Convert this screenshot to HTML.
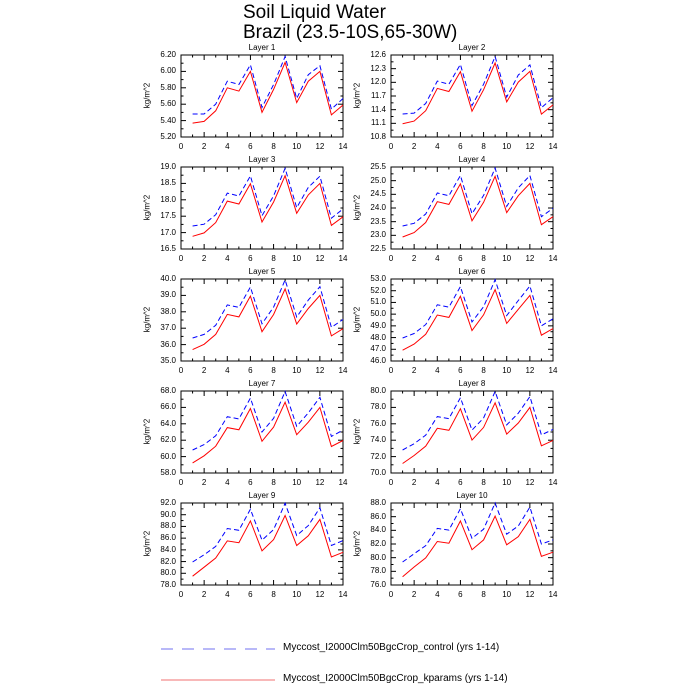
<!DOCTYPE html>
<html><head><meta charset="utf-8"><style>
body{margin:0;width:700px;height:700px;background:#fff;position:relative;font-family:"Liberation Sans",sans-serif;overflow:hidden}
.t{position:absolute;white-space:nowrap;color:#000}
.ya{position:absolute;height:82px;width:40px;display:flex;flex-direction:column-reverse;justify-content:space-between;text-align:right;font-size:8px}
.ya span{display:block;height:0;line-height:0}
.xa{position:absolute;width:162px;height:0;font-size:8px}
.xa span{position:absolute;transform:translateX(-50%)}
.lt{position:absolute;font-size:8px;width:162px;text-align:center}
.yl{position:absolute;font-size:8px;transform:rotate(-90deg);transform-origin:center;width:60px;text-align:center}
</style></head><body>
<div class="t" style="left:243px;top:2px;font-size:19px">Soil Liquid Water</div>
<div class="t" style="left:243px;top:22px;font-size:19px">Brazil (23.5-10S,65-30W)</div>
<svg id="s" width="700" height="700" style="position:absolute;left:0;top:0"></svg>

<div class="lt" style="left:181px;top:43px">Layer 1</div>
<div class="lt" style="left:391px;top:43px">Layer 2</div>
<div class="lt" style="left:181px;top:155px">Layer 3</div>
<div class="lt" style="left:391px;top:155px">Layer 4</div>
<div class="lt" style="left:181px;top:267px">Layer 5</div>
<div class="lt" style="left:391px;top:267px">Layer 6</div>
<div class="lt" style="left:181px;top:379px">Layer 7</div>
<div class="lt" style="left:391px;top:379px">Layer 8</div>
<div class="lt" style="left:181px;top:491px">Layer 9</div>
<div class="lt" style="left:391px;top:491px">Layer 10</div>

<div class="yl" style="left:117px;top:91px">kg/m^2</div><div class="yl" style="left:327px;top:91px">kg/m^2</div>
<div class="yl" style="left:117px;top:203px">kg/m^2</div><div class="yl" style="left:327px;top:203px">kg/m^2</div>
<div class="yl" style="left:117px;top:315px">kg/m^2</div><div class="yl" style="left:327px;top:315px">kg/m^2</div>
<div class="yl" style="left:117px;top:427px">kg/m^2</div><div class="yl" style="left:327px;top:427px">kg/m^2</div>
<div class="yl" style="left:117px;top:539px">kg/m^2</div><div class="yl" style="left:327px;top:539px">kg/m^2</div>

<div class="ya" style="left:136px;top:55px"><span>5.20</span><span>5.40</span><span>5.60</span><span>5.80</span><span>6.00</span><span>6.20</span></div>
<div class="ya" style="left:346px;top:55px"><span>10.8</span><span>11.1</span><span>11.4</span><span>11.7</span><span>12.0</span><span>12.3</span><span>12.6</span></div>
<div class="ya" style="left:136px;top:167px"><span>16.5</span><span>17.0</span><span>17.5</span><span>18.0</span><span>18.5</span><span>19.0</span></div>
<div class="ya" style="left:346px;top:167px"><span>22.5</span><span>23.0</span><span>23.5</span><span>24.0</span><span>24.5</span><span>25.0</span><span>25.5</span></div>
<div class="ya" style="left:136px;top:279px"><span>35.0</span><span>36.0</span><span>37.0</span><span>38.0</span><span>39.0</span><span>40.0</span></div>
<div class="ya" style="left:346px;top:279px"><span>46.0</span><span>47.0</span><span>48.0</span><span>49.0</span><span>50.0</span><span>51.0</span><span>52.0</span><span>53.0</span></div>
<div class="ya" style="left:136px;top:391px"><span>58.0</span><span>60.0</span><span>62.0</span><span>64.0</span><span>66.0</span><span>68.0</span></div>
<div class="ya" style="left:346px;top:391px"><span>70.0</span><span>72.0</span><span>74.0</span><span>76.0</span><span>78.0</span><span>80.0</span></div>
<div class="ya" style="left:136px;top:503px"><span>78.0</span><span>80.0</span><span>82.0</span><span>84.0</span><span>86.0</span><span>88.0</span><span>90.0</span><span>92.0</span></div>
<div class="ya" style="left:346px;top:503px"><span>76.0</span><span>78.0</span><span>80.0</span><span>82.0</span><span>84.0</span><span>86.0</span><span>88.0</span></div>

<div class="xa" style="left:181px;top:142px"><span style="left:0">0</span><span style="left:23.1px">2</span><span style="left:46.3px">4</span><span style="left:69.4px">6</span><span style="left:92.6px">8</span><span style="left:115.7px">10</span><span style="left:138.9px">12</span><span style="left:162px">14</span></div>
<div class="xa" style="left:391px;top:142px"><span style="left:0">0</span><span style="left:23.1px">2</span><span style="left:46.3px">4</span><span style="left:69.4px">6</span><span style="left:92.6px">8</span><span style="left:115.7px">10</span><span style="left:138.9px">12</span><span style="left:162px">14</span></div>
<div class="xa" style="left:181px;top:254px"><span style="left:0">0</span><span style="left:23.1px">2</span><span style="left:46.3px">4</span><span style="left:69.4px">6</span><span style="left:92.6px">8</span><span style="left:115.7px">10</span><span style="left:138.9px">12</span><span style="left:162px">14</span></div>
<div class="xa" style="left:391px;top:254px"><span style="left:0">0</span><span style="left:23.1px">2</span><span style="left:46.3px">4</span><span style="left:69.4px">6</span><span style="left:92.6px">8</span><span style="left:115.7px">10</span><span style="left:138.9px">12</span><span style="left:162px">14</span></div>
<div class="xa" style="left:181px;top:366px"><span style="left:0">0</span><span style="left:23.1px">2</span><span style="left:46.3px">4</span><span style="left:69.4px">6</span><span style="left:92.6px">8</span><span style="left:115.7px">10</span><span style="left:138.9px">12</span><span style="left:162px">14</span></div>
<div class="xa" style="left:391px;top:366px"><span style="left:0">0</span><span style="left:23.1px">2</span><span style="left:46.3px">4</span><span style="left:69.4px">6</span><span style="left:92.6px">8</span><span style="left:115.7px">10</span><span style="left:138.9px">12</span><span style="left:162px">14</span></div>
<div class="xa" style="left:181px;top:478px"><span style="left:0">0</span><span style="left:23.1px">2</span><span style="left:46.3px">4</span><span style="left:69.4px">6</span><span style="left:92.6px">8</span><span style="left:115.7px">10</span><span style="left:138.9px">12</span><span style="left:162px">14</span></div>
<div class="xa" style="left:391px;top:478px"><span style="left:0">0</span><span style="left:23.1px">2</span><span style="left:46.3px">4</span><span style="left:69.4px">6</span><span style="left:92.6px">8</span><span style="left:115.7px">10</span><span style="left:138.9px">12</span><span style="left:162px">14</span></div>
<div class="xa" style="left:181px;top:590px"><span style="left:0">0</span><span style="left:23.1px">2</span><span style="left:46.3px">4</span><span style="left:69.4px">6</span><span style="left:92.6px">8</span><span style="left:115.7px">10</span><span style="left:138.9px">12</span><span style="left:162px">14</span></div>
<div class="xa" style="left:391px;top:590px"><span style="left:0">0</span><span style="left:23.1px">2</span><span style="left:46.3px">4</span><span style="left:69.4px">6</span><span style="left:92.6px">8</span><span style="left:115.7px">10</span><span style="left:138.9px">12</span><span style="left:162px">14</span></div>

<div class="t" style="left:283px;top:642px;font-size:10px">Myccost_I2000Clm50BgcCrop_control (yrs 1-14)</div>
<div class="t" style="left:283px;top:673px;font-size:10px">Myccost_I2000Clm50BgcCrop_kparams (yrs 1-14)</div>

<script>
var s=document.getElementById('s'),h='';
h+='<line x1="161" y1="649" x2="275" y2="649" stroke="#7070f0" stroke-width="1" stroke-dasharray="12,9"/>';
h+='<line x1="161" y1="680" x2="275" y2="680" stroke="#f07070" stroke-width="1"/>';
var r1=[.17,.19,.32,.60,.56,.80,.30,.58,.91,.42,.68,.80,.27,.39],b1=[.28,.28,.40,.68,.64,.88,.36,.64,.98,.47,.76,.87,.34,.47];
var r2=[.10,.22,.33,.53,.51,.78,.43,.55,.84,.49,.59,.80,.35,.40],b2=[.28,.38,.48,.69,.67,.93,.57,.68,1.0,.62,.72,.95,.50,.55];
var nl=[6,7,6,7,6,8,6,6,8,7];
for(var i=0;i<10;i++){
 var L=i%2?391:181,T=55+112*Math.floor(i/2),W=162,H=82,t=i/9;
 h+='<rect x="'+L+'" y="'+T+'" width="'+W+'" height="'+H+'" fill="none" stroke="#000" stroke-width="1"/>';
 for(var k=0;k<=14;k++){var x=L+W*k/14,len=k%2?2.5:5;
  h+='<line x1="'+x+'" y1="'+(T+H)+'" x2="'+x+'" y2="'+(T+H-len)+'" stroke="#000"/>';
  h+='<line x1="'+x+'" y1="'+T+'" x2="'+x+'" y2="'+(T+len)+'" stroke="#000"/>';}
 var n=nl[i]-1;
 for(var k=0;k<=2*n;k++){var y=T+H*k/(2*n),len=k%2?2.5:5;
  h+='<line x1="'+L+'" y1="'+y+'" x2="'+(L+len)+'" y2="'+y+'" stroke="#000"/>';
  h+='<line x1="'+(L+W)+'" y1="'+y+'" x2="'+(L+W-len)+'" y2="'+y+'" stroke="#000"/>';}
 var pr='',pb='';
 for(var j=0;j<14;j++){var x=L+W*(j+1)/14;
  var vr=r1[j]*(1-t)+r2[j]*t,vb=b1[j]*(1-t)+b2[j]*t;
  pr+=x.toFixed(1)+','+(T+H*(1-vr)).toFixed(1)+' ';pb+=x.toFixed(1)+','+(T+H*(1-vb)).toFixed(1)+' ';}
 h+='<polyline points="'+pb+'" fill="none" stroke="#0000ff" stroke-width="1" stroke-dasharray="5,3"/>';
 h+='<polyline points="'+pr+'" fill="none" stroke="#ff0000" stroke-width="1"/>';
}
s.innerHTML=h;
</script>
</body></html>
